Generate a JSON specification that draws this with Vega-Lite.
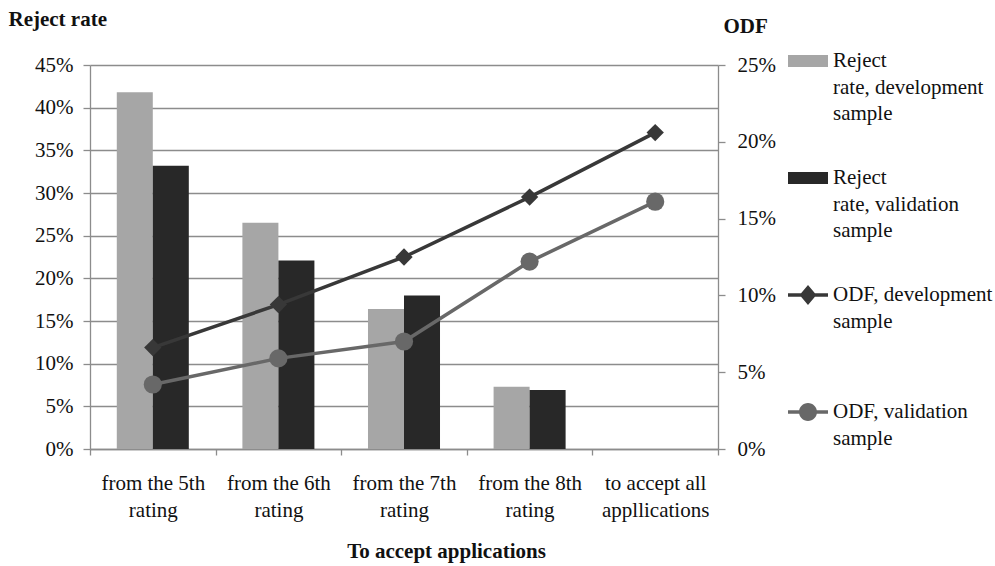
{
  "$schema": "https://vega.github.io/schema/vega-lite/v6.json",
  "width": 628,
  "height": 384,
  "autosize": {"type": "none"},
  "padding": {"left": 90, "top": 65, "right": 277, "bottom": 117},
  "background": "white",
  "config": {
    "font": "Liberation Serif, Times New Roman, serif",
    "view": {"stroke": null},
    "text": {"font": "Liberation Serif, Times New Roman, serif"},
    "axis": {
      "labelFont": "Liberation Serif, Times New Roman, serif",
      "labelFontSize": 21,
      "labelColor": "#111111",
      "titleFont": "Liberation Serif, Times New Roman, serif",
      "titleFontSize": 21,
      "titleFontWeight": "bold",
      "titleColor": "#111111",
      "domainColor": "#8c8c8c",
      "domainWidth": 1.3,
      "tickColor": "#8c8c8c",
      "tickWidth": 1.3,
      "gridColor": "#8c8c8c",
      "gridWidth": 1.3
    },
    "legend": {
      "labelFont": "Liberation Serif, Times New Roman, serif"
    }
  },
  "datasets": {
    "reject": [
      {"rule": "from the 5th rating", "series": "Reject rate, development sample", "value": 0.418},
      {"rule": "from the 5th rating", "series": "Reject rate, validation sample", "value": 0.332},
      {"rule": "from the 6th rating", "series": "Reject rate, development sample", "value": 0.265},
      {"rule": "from the 6th rating", "series": "Reject rate, validation sample", "value": 0.221},
      {"rule": "from the 7th rating", "series": "Reject rate, development sample", "value": 0.164},
      {"rule": "from the 7th rating", "series": "Reject rate, validation sample", "value": 0.180},
      {"rule": "from the 8th rating", "series": "Reject rate, development sample", "value": 0.073},
      {"rule": "from the 8th rating", "series": "Reject rate, validation sample", "value": 0.069}
    ],
    "odf": [
      {"rule": "from the 5th rating", "series": "ODF, development sample", "value": 0.066},
      {"rule": "from the 6th rating", "series": "ODF, development sample", "value": 0.094},
      {"rule": "from the 7th rating", "series": "ODF, development sample", "value": 0.125},
      {"rule": "from the 8th rating", "series": "ODF, development sample", "value": 0.164},
      {"rule": "to accept all appllications", "series": "ODF, development sample", "value": 0.206},
      {"rule": "from the 5th rating", "series": "ODF, validation sample", "value": 0.042},
      {"rule": "from the 6th rating", "series": "ODF, validation sample", "value": 0.059},
      {"rule": "from the 7th rating", "series": "ODF, validation sample", "value": 0.070},
      {"rule": "from the 8th rating", "series": "ODF, validation sample", "value": 0.122},
      {"rule": "to accept all appllications", "series": "ODF, validation sample", "value": 0.161}
    ]
  },
  "layer": [
    {
      "data": {"name": "reject"},
      "mark": {"type": "bar"},
      "encoding": {
        "x": {
          "field": "rule",
          "type": "nominal",
          "sort": null,
          "scale": {
            "domain": ["from the 5th rating", "from the 6th rating", "from the 7th rating", "from the 8th rating", "to accept all appllications"],
            "paddingInner": 0,
            "paddingOuter": 0
          },
          "axis": {
            "title": "To accept applications",
            "titleX": 356,
            "titleY": 108,
            "titleAlign": "center",
            "titleBaseline": "alphabetic",
            "labelAngle": 0,
            "labelAlign": "center",
            "labelBaseline": "top",
            "labelLineHeight": 27,
            "labelPadding": 17,
            "labelLimit": 200,
            "tickBand": "extent",
            "tickSize": 6,
            "grid": false,
            "labelExpr": "!datum.label ? '' : datum.label == 'to accept all appllications' ? ['to accept all', 'appllications'] : [slice(datum.label, 0, 12), 'rating']"
          }
        },
        "xOffset": {
          "field": "series",
          "type": "nominal",
          "sort": null,
          "scale": {
            "domain": ["Reject rate, development sample", "Reject rate, validation sample"],
            "paddingInner": 0,
            "paddingOuter": 0.744
          }
        },
        "y": {
          "field": "value",
          "type": "quantitative",
          "scale": {"domain": [0, 0.45], "nice": false},
          "axis": {
            "orient": "left",
            "values": [0, 0.05, 0.1, 0.15, 0.2, 0.25, 0.3, 0.35, 0.4, 0.45],
            "format": ".0%",
            "grid": true,
            "tickSize": 7,
            "labelPadding": 10,
            "title": "Reject rate",
            "titleAngle": 0,
            "titleAlign": "left",
            "titleBaseline": "alphabetic",
            "titleX": -82,
            "titleY": -40
          }
        },
        "color": {
          "field": "series",
          "type": "nominal",
          "scale": {
            "domain": ["Reject rate, development sample", "Reject rate, validation sample", "ODF, development sample", "ODF, validation sample"],
            "range": ["#a6a6a6", "#282828", "#383838", "#686868"]
          },
          "legend": {
            "orient": "none",
            "legendX": 698,
            "legendY": -24,
            "title": null,
            "padding": 0,
            "symbolSize": 1600,
            "labelFont": "Liberation Serif, Times New Roman, serif",
            "labelFontSize": 21,
            "labelColor": "#111111",
            "labelOffset": 5,
            "labelLimit": 300,
            "labelBaseline": "top",
            "rowPadding": 34,
            "labelExpr": "datum.label == 'Reject rate, development sample' ? ['Reject', 'rate, development', 'sample'] : datum.label == 'Reject rate, validation sample' ? ['Reject', 'rate, validation', 'sample'] : datum.label == 'ODF, development sample' ? ['ODF, development', 'sample', ''] : ['ODF, validation', 'sample', '']",
            "encode": {
              "symbols": {
                "update": {
                  "shape": {"signal": "datum.value == 'ODF, development sample' ? 'M-1,-0.085H1V0.085H-1Z M0,-0.5L0.42,0L0,0.5L-0.42,0Z' : datum.value == 'ODF, validation sample' ? 'M-1,-0.085H1V0.085H-1Z M-0.45,0A0.45,0.45 0 1,1 0.45,0A0.45,0.45 0 1,1 -0.45,0Z' : 'M-1,-0.3H1V0.3H-1Z'"},
                  "size": {"value": 1600},
                  "fill": {"scale": "color", "field": "value"},
                  "stroke": {"value": "transparent"},
                  "strokeWidth": {"value": 0},
                  "opacity": {"value": 1}
                }
              },
              "labels": {
                "update": {
                  "dy": {"value": -11},
                  "lineHeight": {"value": 26.5},
                  "font": {"value": "Liberation Serif, Times New Roman, serif"}
                }
              }
            }
          }
        }
      }
    },
    {
      "data": {"name": "odf"},
      "encoding": {
        "x": {"field": "rule", "type": "nominal", "sort": null},
        "y": {
          "field": "value",
          "type": "quantitative",
          "scale": {"domain": [0, 0.25], "nice": false},
          "axis": {
            "orient": "right",
            "values": [0, 0.05, 0.1, 0.15, 0.2, 0.25],
            "format": ".0%",
            "grid": false,
            "tickSize": 7,
            "labelPadding": 12,
            "title": "ODF",
            "titleAngle": 0,
            "titleAlign": "left",
            "titleBaseline": "alphabetic",
            "titleX": 5,
            "titleY": -33
          }
        },
        "color": {"field": "series", "type": "nominal"}
      },
      "layer": [
        {"mark": {"type": "line", "strokeWidth": 3.5}},
        {
          "mark": {"type": "point", "filled": true, "opacity": 1, "strokeWidth": 0},
          "encoding": {
            "shape": {
              "field": "series",
              "type": "nominal",
              "scale": {"domain": ["ODF, development sample", "ODF, validation sample"], "range": ["diamond", "circle"]},
              "legend": null
            },
            "size": {
              "field": "series",
              "type": "nominal",
              "scale": {"domain": ["ODF, development sample", "ODF, validation sample"], "range": [300, 330]},
              "legend": null
            }
          }
        }
      ]
    }
  ],
  "resolve": {"scale": {"y": "independent"}}
}
